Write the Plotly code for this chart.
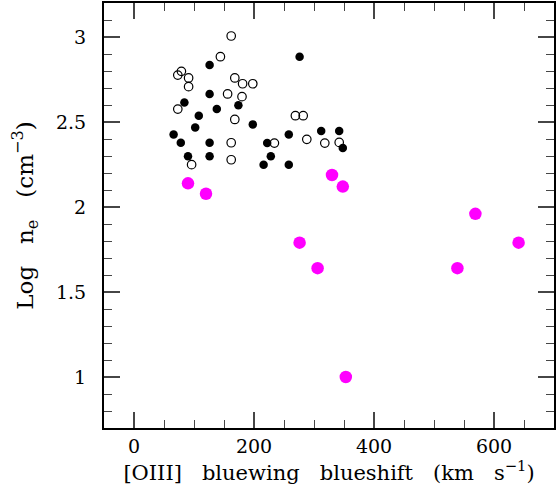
import plotly.graph_objects as go

# Filled black circles
filled_x = [126, 276, 126, 84, 138, 174, 108, 102, 66, 78, 126, 90, 126, 198, 258, 312, 342, 222, 348, 228, 216, 258]
filled_y = [2.835, 2.884, 2.665, 2.615, 2.576, 2.598, 2.537, 2.468, 2.427, 2.378, 2.378, 2.298, 2.298, 2.486, 2.427, 2.447, 2.447, 2.376, 2.347, 2.298, 2.249, 2.249]

# Open circles
open_x = [162, 144, 79, 73, 91, 91, 168, 181, 198, 156, 180, 73, 168, 162, 162, 96, 269, 282, 288, 234, 318, 342]
open_y = [3.006, 2.884, 2.798, 2.776, 2.759, 2.708, 2.759, 2.725, 2.725, 2.665, 2.649, 2.576, 2.515, 2.378, 2.278, 2.249, 2.537, 2.537, 2.398, 2.376, 2.376, 2.38]

# Magenta circles
mag_x = [90, 120, 330, 348, 276, 306, 353, 539, 569, 641]
mag_y = [2.139, 2.078, 2.188, 2.12, 1.79, 1.64, 1.0, 1.64, 1.96, 1.79]

x_range = [-50, 700]
y_range = [0.7, 3.2]
x_tick_step = 200
x_minor_step = 50
y_tick_step = 0.5
y_minor_step = 0.1

FONT = "DejaVu Serif"
TICK_COLOR = "#464646"

fig = go.Figure()
fig.add_trace(go.Scatter(x=filled_x, y=filled_y, mode="markers",
                         marker=dict(symbol="circle", size=8.5, color="#000000", line=dict(width=0))))
fig.add_trace(go.Scatter(x=open_x, y=open_y, mode="markers",
                         marker=dict(symbol="circle-open", size=8.5, color="#000000",
                                     line=dict(width=1.2, color="#000000"))))
fig.add_trace(go.Scatter(x=mag_x, y=mag_y, mode="markers",
                         marker=dict(symbol="circle", size=12.5, color="#ff00ff", line=dict(width=0))))

axis_common = dict(
    showgrid=False, zeroline=False, showline=True, linecolor="#000000", linewidth=2,
    mirror="allticks", ticks="inside", ticklen=16, tickwidth=1.6, tickcolor=TICK_COLOR,
    tickfont=dict(family=FONT, size=19, color="#000000"), tickmode="linear",
)

fig.update_layout(
    template="none", width=560, height=499, showlegend=False,
    margin=dict(l=104, r=6, t=3, b=71),
    plot_bgcolor="#ffffff", paper_bgcolor="#ffffff",
    xaxis=dict(range=x_range, tick0=0, dtick=x_tick_step,
               minor=dict(ticks="inside", tick0=0, dtick=x_minor_step, ticklen=8,
                          tickwidth=1.4, tickcolor=TICK_COLOR, showgrid=False),
               title=dict(text="[OIII]   bluewing   blueshift   (km   s<sup>−1</sup>)",
                          font=dict(family=FONT, size=21, color="#000000"), standoff=6),
               **axis_common),
    yaxis=dict(range=y_range, tick0=0, dtick=y_tick_step, ticksuffix="\u00a0\u00a0",
               minor=dict(ticks="inside", tick0=0, dtick=y_minor_step, ticklen=8,
                          tickwidth=1.4, tickcolor=TICK_COLOR, showgrid=False),
               title=dict(text="Log   n<sub>e</sub>   (cm<sup>−3</sup>)",
                          font=dict(family=FONT, size=23, color="#000000"), standoff=16),
               **axis_common),
)

fig.write_html("out.html")
